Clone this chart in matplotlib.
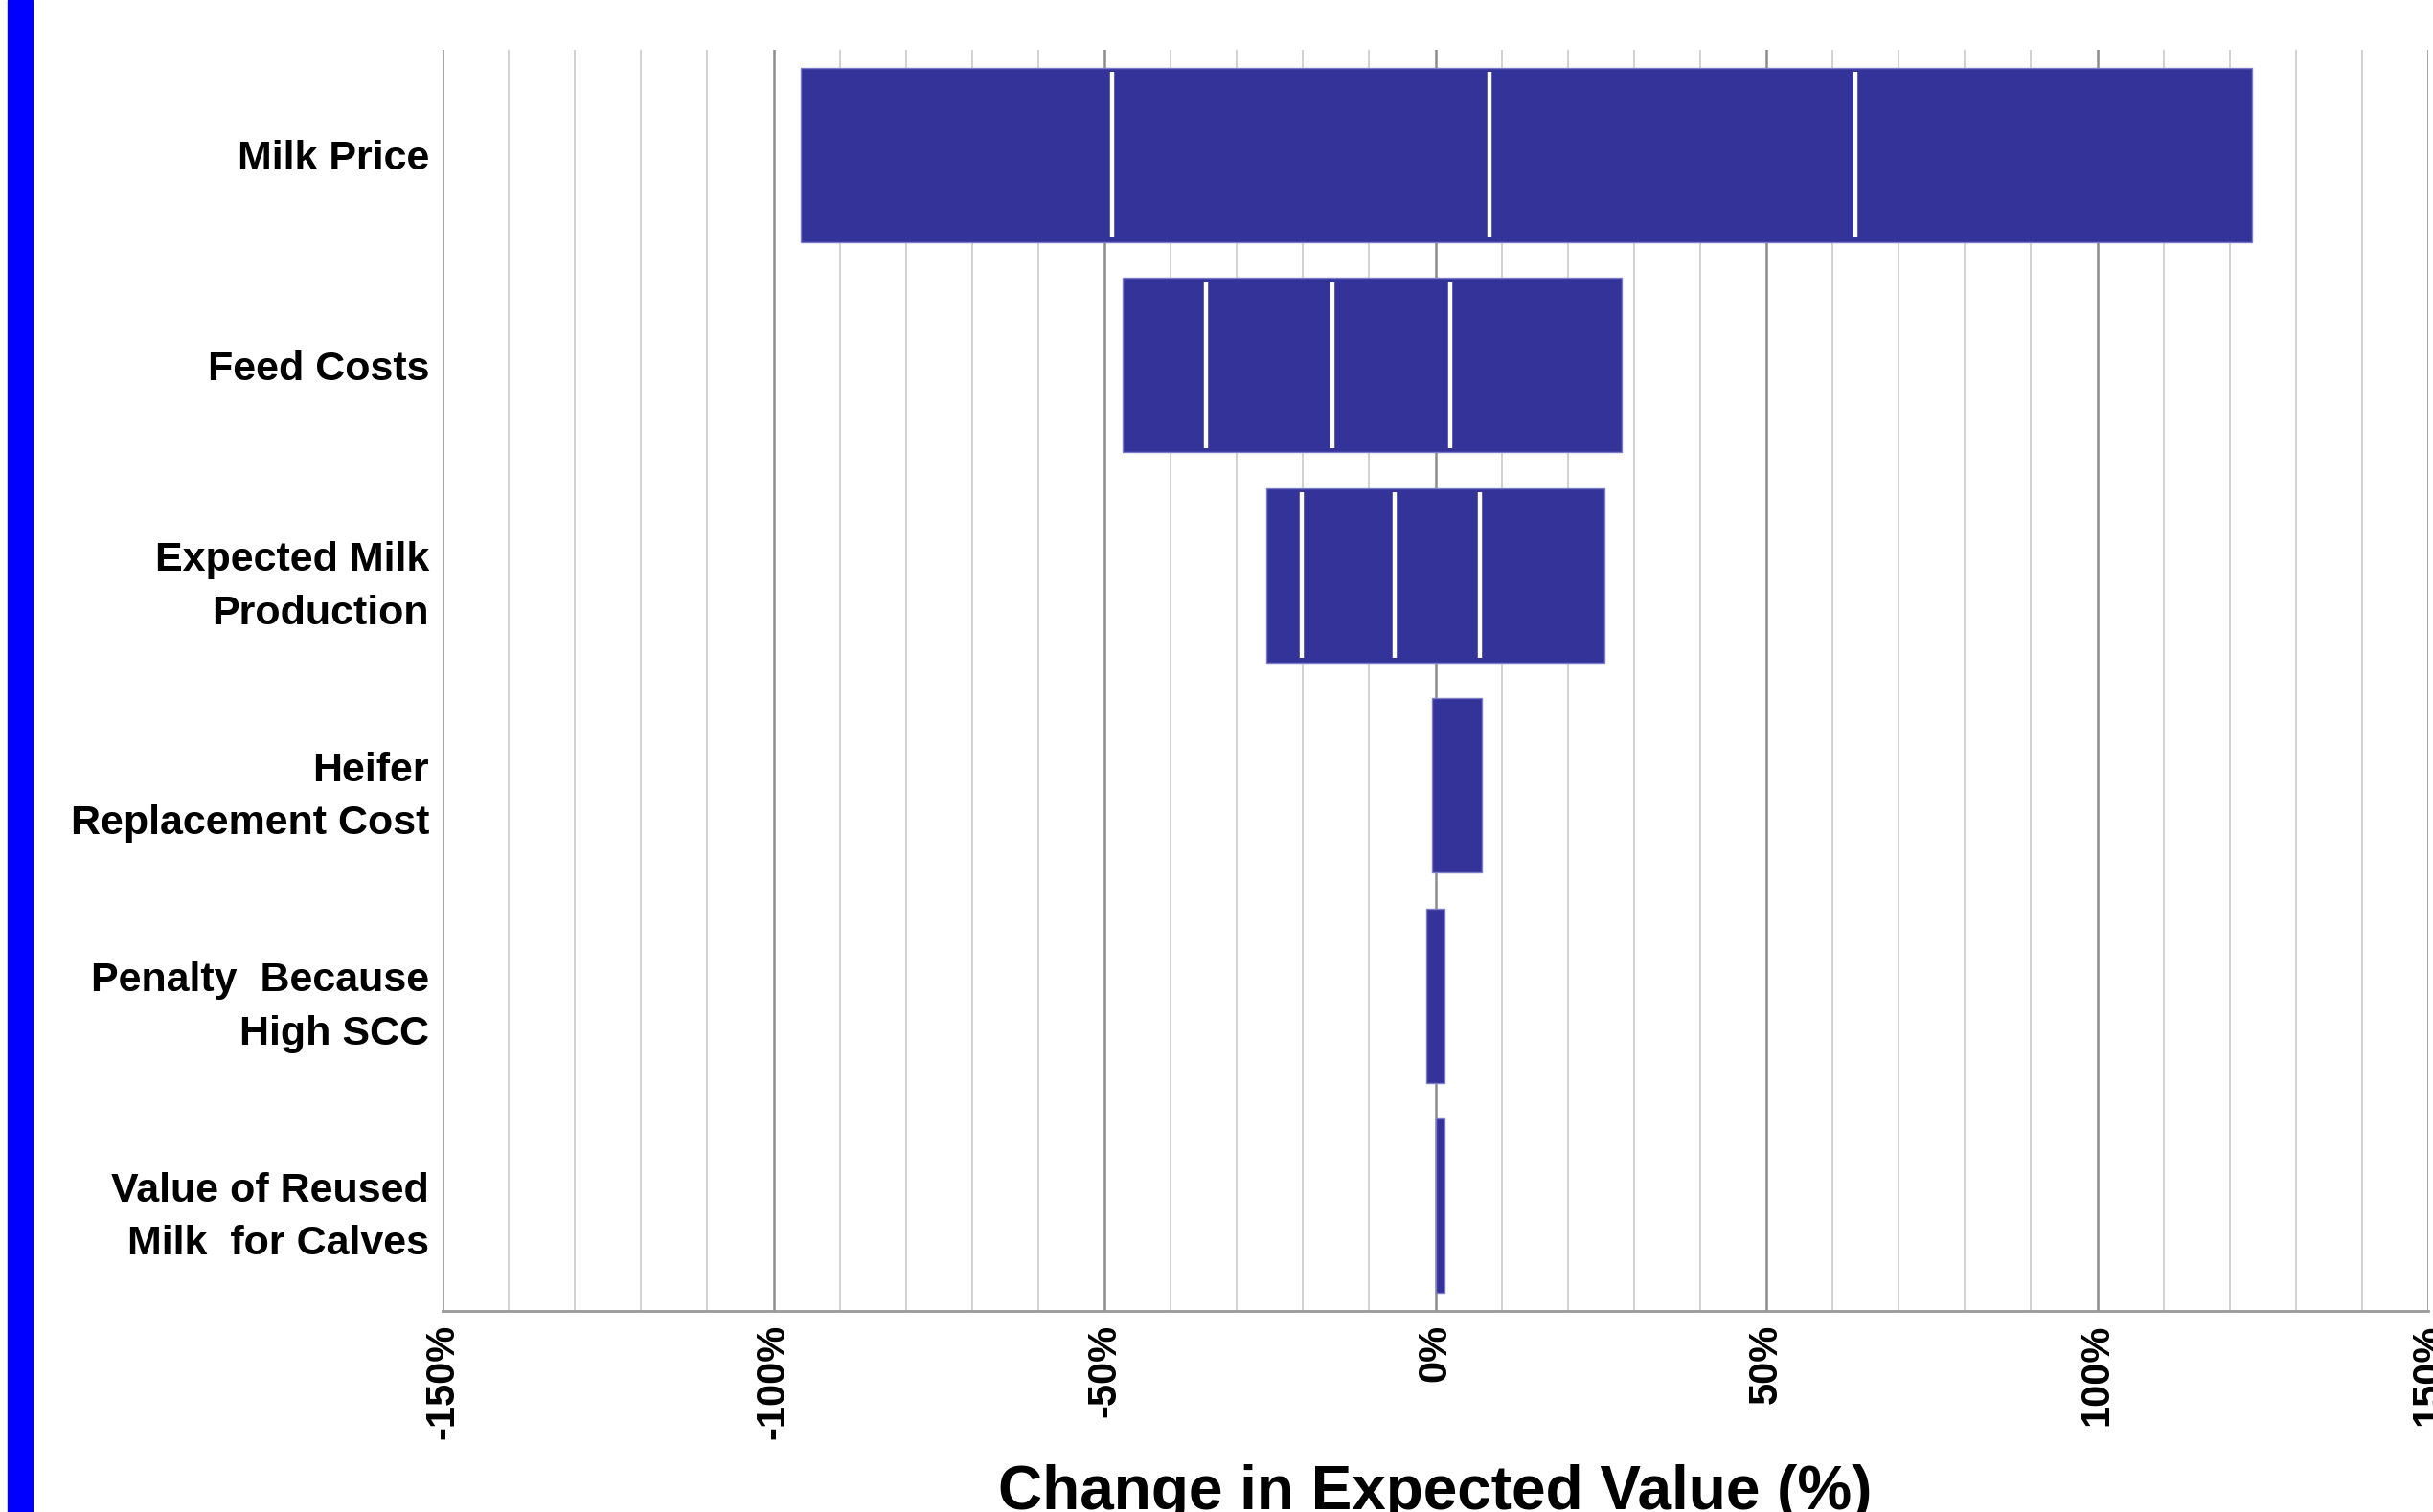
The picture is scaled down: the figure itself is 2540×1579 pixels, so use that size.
import numpy as np
import matplotlib
matplotlib.use("Agg")
import matplotlib.pyplot as plt
from matplotlib.patches import Rectangle

plt.rcParams['font.family'] = ['Liberation Sans', 'DejaVu Sans']

# tornado data, % change in expected value
categories = ["Milk Price", "Feed Costs", "Expected Milk\nProduction",
              "Heifer\nReplacement Cost", "Penalty  Because\nHigh SCC",
              "Value of Reused\nMilk  for Calves"]
low = [-95.9, -47.2, -25.6, -0.5, -1.4, 0.0]
cut1 = [-48.8, -34.7, -20.2, np.nan, np.nan, np.nan]
cut2 = [8.2, -15.6, -6.2, np.nan, np.nan, np.nan]
cut3 = [63.4, 2.2, 6.7, np.nan, np.nan, np.nan]
high = [123.3, 28.2, 25.5, 7.0, 1.4, 1.4]
xticks = [-150, -100, -50, 0, 50, 100, 150]
xticklabels = ["-150%", "-100%", "-50%", "0%", "50%", "100%", "150%"]

W, H = 2540, 1579
fig = plt.figure(figsize=(W / 100, H / 100), dpi=100)
ax = fig.add_axes([462 / W, 1 - 1369 / H, (2535 - 462) / W, (1369 - 52) / H])

# grid
for v in range(-150, 151, 10):
    major = v % 50 == 0
    ax.axvline(v, color='#8c8c8c' if major else '#c6c6c6',
               lw=1.8 if major else 1.1, zorder=0)

y = np.arange(len(categories))
bh = 0.83
lo = np.array(low)
hi = np.array(high)
ax.barh(y, hi - lo, left=lo, height=bh, color='#333399',
        edgecolor='#7b7bc8', linewidth=1.0, zorder=2)

for cuts in (cut1, cut2, cut3):
    c = np.array(cuts)
    ok = ~np.isnan(c)
    ax.vlines(c[ok], y[ok] - bh / 2 + 0.02, y[ok] + bh / 2 - 0.02,
              color='white', lw=3.2, zorder=3)

ax.set_xlim(-150, 150)
ax.set_ylim(len(categories) - 0.5, -0.5)
ax.set_yticks(y)
ax.set_yticklabels(categories, fontsize=31, fontweight='bold', ha='right',
                   linespacing=1.5)
ax.tick_params(axis='y', length=0, pad=10)
ax.set_xticks(xticks)
ax.set_xticklabels(xticklabels, fontsize=30, fontweight='bold', rotation=90)
ax.tick_params(axis='x', length=0, pad=10)

for s in ('top', 'right', 'left'):
    ax.spines[s].set_visible(False)
ax.spines['bottom'].set_color('#999999')
ax.spines['bottom'].set_linewidth(2)

fig.text((462 + 2535) / 2 / W, 3 / H, "Change in Expected Value (%)",
         ha='center', va='baseline', fontsize=46, fontweight='bold')

# blue stripe on the left edge
fig.patches.append(Rectangle((8 / W, 0), 26 / W, 1, transform=fig.transFigure,
                             color='#0000ff', zorder=5))

fig.savefig("out.png", dpi=100)
